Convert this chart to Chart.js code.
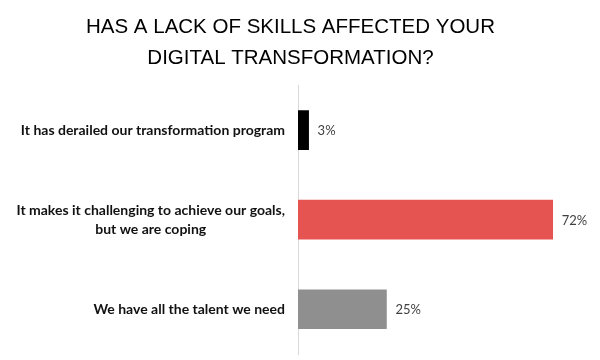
<!DOCTYPE html>
<html>
<head>
<meta charset="utf-8">
<script src="https://cdn.jsdelivr.net/npm/chart.js@4/dist/chart.umd.min.js"></script>
<style>
  html, body { margin: 0; padding: 0; background: #fff; }
  #wrap { width: 600px; height: 360px; }
</style>
</head>
<body>
<div id="wrap"><canvas id="skillsChart" width="600" height="360"></canvas></div>
<script>
// data
const categories = [
  ['It has derailed our transformation program'],
  ['It makes it challenging to achieve our goals,', 'but we are coping'],
  ['We have all the talent we need']
];
const shares = [3, 72, 25];
const barColors = ['#000000', '#E65451', '#8F8F8F'];
const titleLines = ['HAS A LACK OF SKILLS AFFECTED YOUR', 'DIGITAL TRANSFORMATION?'];

const LABEL_FONT = 'bold 14px Lato, "Open Sans", sans-serif';
const VALUE_FONT = '13px Lato, "Open Sans", sans-serif';

// draws the category labels (right-aligned block, lines centred) and the % labels
const labelPlugin = {
  id: 'barLabels',
  afterDraw(chart) {
    const ctx = chart.ctx;
    const yScale = chart.scales.y;
    ctx.save();
    ctx.textBaseline = 'middle';

    // category labels
    ctx.font = LABEL_FONT;
    ctx.fillStyle = '#111';
    const right = chart.chartArea.left - 13;
    categories.forEach((lines, i) => {
      const yc = yScale.getPixelForValue(i);
      const widest = Math.max(...lines.map(l => ctx.measureText(l).width));
      const mid = right - widest / 2;
      const lh = 19;
      ctx.textAlign = 'center';
      lines.forEach((line, j) => {
        const y = yc + (j - (lines.length - 1) / 2) * lh;
        ctx.fillText(line, mid, y);
      });
    });

    // value labels
    ctx.font = VALUE_FONT;
    ctx.fillStyle = '#404040';
    ctx.textAlign = 'left';
    const meta = chart.getDatasetMeta(0);
    meta.data.forEach((bar, i) => {
      ctx.fillText(shares[i] + '%', bar.x + 9, bar.y + 1);
    });
    ctx.restore();
  }
};

const ctx = document.getElementById('skillsChart').getContext('2d');

new Chart(ctx, {
  type: 'bar',
  data: {
    labels: categories,
    datasets: [{
      data: shares,
      backgroundColor: barColors,
      borderWidth: 0,
      barThickness: 39
    }]
  },
  options: {
    indexAxis: 'y',
    responsive: false,
    animation: false,
    layout: {
      padding: { left: 0, right: 19, top: 0, bottom: 6 }
    },
    plugins: {
      legend: { display: false },
      tooltip: { enabled: false },
      title: {
        display: true,
        text: titleLines,
        color: '#000',
        font: { family: '"Liberation Sans", Arial, sans-serif', size: 20.5, weight: 'normal', lineHeight: 1.52 },
        padding: { top: 12, bottom: 11 }
      }
    },
    scales: {
      x: {
        display: false,
        min: 0,
        max: 80
      },
      y: {
        grid: { display: false },
        border: { display: true, color: '#D9D9D9', width: 1 },
        ticks: { display: false },
        afterFit(scale) { scale.width = 298; }
      }
    }
  },
  plugins: [labelPlugin]
});
</script>
</body>
</html>
